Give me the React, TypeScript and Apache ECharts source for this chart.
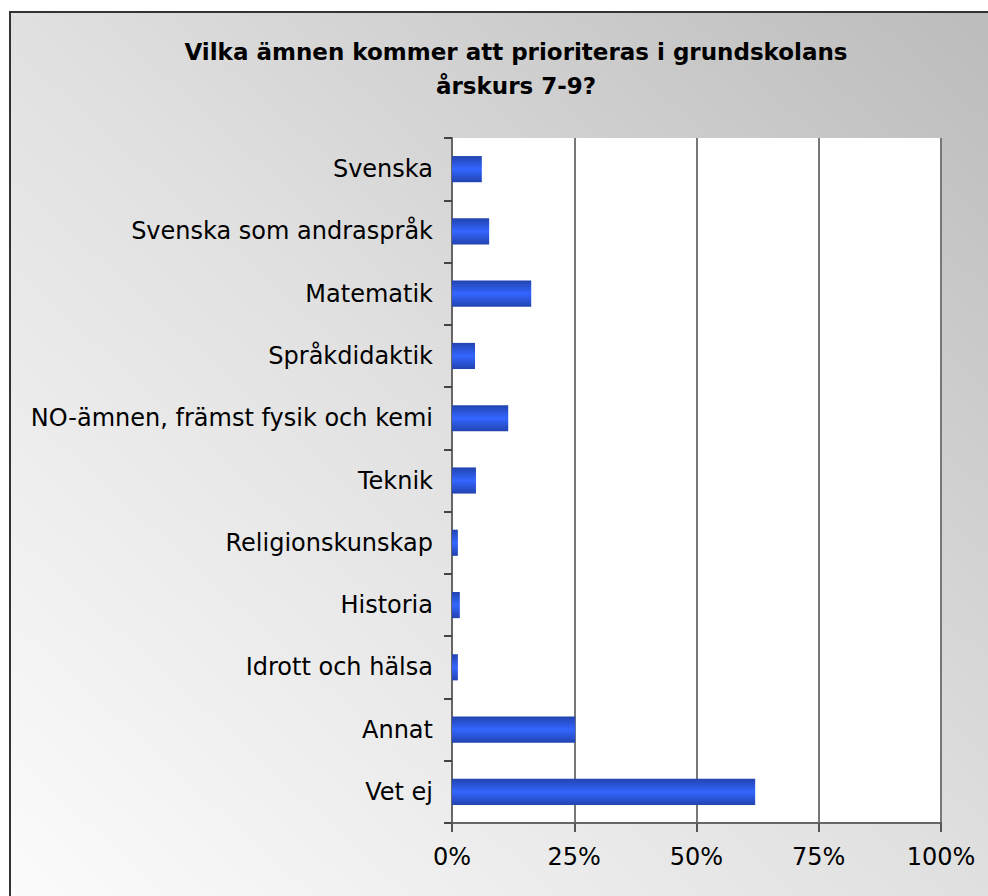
import React, { useEffect, useRef } from "react";
import * as echarts from "echarts";

const categories = [
  "Svenska",
  "Svenska som andraspråk",
  "Matematik",
  "Språkdidaktik",
  "NO-ämnen, främst fysik och kemi",
  "Teknik",
  "Religionskunskap",
  "Historia",
  "Idrott och hälsa",
  "Annat",
  "Vet ej",
];
const values = [6.1, 7.6, 16.2, 4.7, 11.5, 4.9, 1.2, 1.6, 1.2, 25.2, 62.0];
const titleLines = ["Vilka ämnen kommer att prioriteras i grundskolans", "årskurs 7-9?"];
const xTicks = [0, 25, 50, 75, 100];

export default function App() {
  const ref = useRef<HTMLDivElement>(null);
  useEffect(() => {
    document.body.style.margin = "0";
    const chart = echarts.init(ref.current!, null, { renderer: "svg" });
    const font = "DejaVu Sans, Verdana, sans-serif";
    chart.setOption({
      animation: false,
      graphic: [
        {
          type: "rect",
          z: -10,
          silent: true,
          shape: { x: 10, y: 12, width: 990, height: 900 },
          style: {
            fill: new echarts.graphic.LinearGradient(0, 1, 1, 0, [
              { offset: 0, color: "#fcfcfc" },
              { offset: 0.5, color: "#e0e0e0" },
              { offset: 1, color: "#bbbbbb" },
            ]),
            stroke: "#333",
            lineWidth: 2,
          },
        },
        {
          type: "text",
          x: 516,
          y: 69,
          style: {
            text: titleLines.join("\n"),
            font: `bold 23px ${font}`,
            fill: "#000",
            align: "center",
            verticalAlign: "middle",
            lineHeight: 34,
          },
        },
      ],
      grid: {
        left: 452,
        right: 47,
        top: 138,
        bottom: 73,
        show: true,
        backgroundColor: "#ffffff",
        borderWidth: 0,
      },
      xAxis: {
        type: "value",
        min: xTicks[0],
        max: xTicks[xTicks.length - 1],
        interval: 25,
        axisLine: { show: true, lineStyle: { color: "#666", width: 2 } },
        axisTick: { show: true, length: 9, lineStyle: { color: "#555", width: 2 } },
        axisLabel: {
          formatter: "{value}%",
          fontSize: 24,
          fontFamily: font,
          color: "#000",
          margin: 22,
        },
        splitLine: { show: true, lineStyle: { color: "#777", width: 2 } },
      },
      yAxis: {
        type: "category",
        inverse: true,
        data: categories,
        axisLine: { show: true, lineStyle: { color: "#666", width: 2 } },
        axisTick: { show: true, length: 8, lineStyle: { color: "#444", width: 2 } },
        axisLabel: {
          fontSize: 24,
          fontFamily: font,
          color: "#000",
          margin: 19,
        },
        splitLine: { show: false },
      },
      series: [
        {
          type: "bar",
          data: values,
          barWidth: "42%",
          itemStyle: {
            color: new echarts.graphic.LinearGradient(0, 0, 0, 1, [
              { offset: 0, color: "#2244b0" },
              { offset: 0.5, color: "#3366ff" },
              { offset: 1, color: "#2244b0" },
            ]),
          },
        },
      ],
    });
    return () => chart.dispose();
  }, []);
  return <div ref={ref} style={{ width: 988, height: 896 }} />;
}
